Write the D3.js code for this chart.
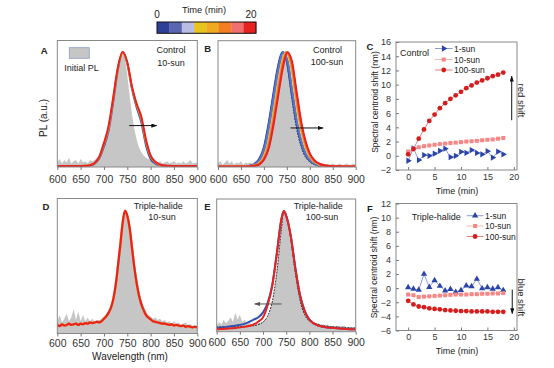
<!DOCTYPE html>
<html><head><meta charset="utf-8">
<script src="https://cdn.jsdelivr.net/npm/d3@7"></script>
<style>body{margin:0;background:#fff;} svg{display:block;}</style>
</head><body><svg id="chart" width="554" height="368"></svg>
<script>
// ---------------- DATA ----------------
const wavelengthTicks = [600, 650, 700, 750, 800, 850, 900];
const wavelengths = [600,610,620,630,640,650,660,670,680,690,700,710,720,730,740,750,760,770,780,790,800,810,820,830,840,850,860,870,880,890,900];
const wavelengthsFine = [600,605,610,615,620,625,630,635,640,645,650,655,660,665,670,675,680,685,690,695,
  700,705,710,715,720,725,730,735,740,745,750,755,760,765,770,775,780,785,790,795,
  800,805,810,815,820,825,830,835,840,845,850,855,860,865,870,875,880,885,890,895,900];
const wavelengthsB = [580,590,600,610,620,630,640,650,660,670,680,690,700,710,720,730,740,750,760,770,780,790,800,810,820,830,840,850,860,870,880,890,900];
const wavelengthsE = [600,620,640,660,680,690,700,710,720,730,740,745,750,760,770,780,790,800,820,840,860,880,900];

const timeColors = ["#2e3f98","#5a66b0","#b9bde3","#e8c31e","#f0aa22","#f27d22","#f07070","#e8231f"];
const curveColorsB = ["#2f4aa8","#3b59b8","#5f77c8","#e8c31e","#f0aa22","#f28a22","#f07060","#e8231f"];
const timeLabels = ["0", "20"];

// Panel A: Control 10-sun
const grayA = [.04,.07,.03,.06,.04,.08,.03,.05,.06,.03,.07,.04,.05,.03,.06,.05,.06,.08,.10,.14,
  .17,.24,.33,.45,.56,.66,.80,.93,1.0,.95,.80,.62,.46,.33,.24,.17,.13,.10,.08,.07,
  .06,.05,.06,.04,.05,.03,.04,.05,.03,.04,.05,.03,.04,.03,.05,.03,.04,.06,.03,.04,.03];
const blueA = [.005,.005,.005,.005,.005,.006,.008,.012,.028,.075,.18,.32,.57,.85,1.0,.90,.68,.52,.39,.19,.07,.03,.015,.01,.008,.007,.006,.006,.005,.005,.005];
const orangeA = [.007,.007,.007,.007,.007,.008,.01,.014,.032,.085,.20,.34,.60,.86,1.0,.90,.69,.54,.42,.22,.09,.04,.018,.012,.009,.008,.007,.007,.007,.007,.007];
const redA = [.008,.008,.008,.008,.008,.009,.011,.016,.035,.09,.21,.36,.61,.87,1.0,.91,.70,.55,.44,.24,.10,.045,.022,.013,.01,.009,.008,.008,.008,.008,.008];

// Panel B: Control 100-sun
const grayB = [.03,.05,.02,.04,.06,.03,.05,.02,.04,.03,.05,.02,.04,.03,.04,.03,.05,.06,.09,.13,
  .19,.28,.40,.52,.65,.77,.88,.96,1.0,.98,.90,.76,.60,.46,.34,.25,.18,.13,.09,.07,
  .05,.04,.05,.03,.04,.02,.03,.02,.03,.02,.03,.02,.02,.03,.02,.02,.03,.02,.02,.03,.02];
const baseB = [.005,.005,.005,.005,.005,.005,.005,.005,.006,.01,.025,.07,.17,.37,.62,.86,1.0,.92,.66,.40,.22,.11,.055,.028,.014,.009,.007,.006,.005,.005,.005,.005,.005];
const peakShiftB = [0, 1, 2, 7, 8, 9, 10, 11];
const initialB = [.005,.005,.005,.005,.005,.005,.005,.008,.025,.07,.17,.37,.62,.86,1.0,.90,.62,.36,.19,.09,.045,.022,.012,.008,.005,.005,.005,.005,.005,.005,.005];

// Panel D: Triple-halide 10-sun
const grayD = [.10,.15,.09,.12,.16,.10,.13,.20,.11,.18,.10,.15,.10,.13,.10,.12,.10,.11,.11,.12,
  .14,.16,.19,.23,.30,.41,.57,.74,.92,1.0,.98,.90,.76,.60,.47,.36,.28,.22,.18,.15,
  .14,.12,.13,.11,.12,.10,.11,.09,.10,.08,.10,.08,.09,.07,.08,.09,.07,.08,.06,.07,.06];
const redD = [.07,.06,.075,.065,.07,.08,.07,.075,.08,.07,.08,.075,.085,.08,.09,.085,.09,.095,.09,.10,
  .12,.14,.17,.21,.28,.39,.55,.72,.90,1.0,.96,.86,.70,.54,.41,.31,.24,.19,.15,.13,
  .115,.10,.095,.09,.085,.08,.08,.075,.07,.075,.065,.07,.065,.06,.065,.055,.06,.055,.05,.055,.05];

// Panel E: Triple-halide 100-sun
const grayE = [.05,.08,.06,.10,.07,.09,.12,.08,.16,.10,.14,.08,.10,.07,.08,.06,.07,.06,.07,.07,
  .08,.10,.12,.17,.24,.35,.50,.68,.87,.98,.97,.90,.80,.66,.52,.40,.30,.22,.16,.12,
  .10,.08,.07,.06,.07,.05,.06,.05,.06,.04,.05,.04,.05,.04,.04,.05,.03,.04,.03,.04,.03];
const blueE = [.03,.04,.05,.065,.10,.12,.16,.24,.39,.66,.94,1.0,.96,.79,.52,.30,.17,.10,.05,.035,.028,.022,.02];
const redE = [.02,.025,.03,.04,.06,.085,.12,.22,.38,.65,.94,1.0,.96,.79,.52,.30,.17,.10,.05,.035,.028,.022,.02];
const initialE = [.04,.04,.04,.045,.05,.06,.08,.13,.25,.50,.86,1.0,.97,.76,.48,.26,.14,.09,.06,.045,.04,.035,.03];

// Panels C & F: spectral centroid shift (nm) vs time (min)
const timeMin = [0,1,2,3,4,5,6,7,8,9,10,11,12,13,14,15,16,17,18];
const timeTicks = [0, 5, 10, 15, 20];
const controlTicks = [-2,0,2,4,6,8,10,12,14,16];
const tripleTicks = [-6,-4,-2,0,2,4,6,8,10,12];
const seriesNames = ["1-sun", "10-sun", "100-sun"];
const controlSun1 = [-0.7,1.05,-0.6,0.1,0.0,0.3,0.7,1.0,-0.2,0.0,0.55,0.4,0.8,0.4,0.2,0.65,-0.25,0.6,0.2];
const controlSun10 = [0.6,1.0,1.2,1.35,1.45,1.55,1.65,1.72,1.8,1.85,1.92,2.0,2.05,2.1,2.18,2.25,2.3,2.4,2.5];
const controlSun100 = [0.2,0.95,2.4,3.7,4.9,5.8,6.7,7.4,8.0,8.5,9.0,9.5,9.9,10.3,10.6,10.9,11.2,11.4,11.7];
const tripleSun1 = [0.1,-0.1,-0.25,2.0,0.15,1.1,0.3,-0.35,-0.15,-0.55,-0.3,0.35,0.25,1.3,-0.05,0.1,-0.1,0.1,-0.3];
const tripleSun10 = [-0.9,-1.0,-1.25,-1.2,-1.15,-1.1,-1.05,-1.0,-0.95,-0.9,-0.9,-0.9,-0.85,-0.85,-0.8,-0.8,-0.75,-0.75,-0.7];
const tripleSun100 = [-1.8,-2.3,-2.6,-2.7,-2.85,-2.95,-3.0,-3.1,-3.15,-3.2,-3.25,-3.25,-3.3,-3.3,-3.3,-3.3,-3.35,-3.35,-3.35];

// ---------------- DRAW ----------------
const FONT = "'Liberation Sans', Arial, Helvetica, sans-serif";
const svg = d3.select("#chart");
const defs = svg.append("defs");
function arrowMarker(id, color) {
  defs.append("marker").attr("id", id).attr("viewBox", "0 0 10 7").attr("refX", 9).attr("refY", 3.5)
    .attr("markerWidth", 6).attr("markerHeight", 4.2).attr("markerUnits", "userSpaceOnUse").attr("orient", "auto")
    .append("path").attr("d", "M0,0 L10,3.5 L0,7 Z").attr("fill", color);
}
arrowMarker("ahBlack", "#111");
arrowMarker("ahGray", "#555");

function txt(x, y, s, o = {}) {
  const t = svg.append("text").attr("x", x).attr("y", y).text(s)
    .attr("font-family", FONT).attr("font-size", o.size || 9).attr("fill", o.fill || "#222")
    .attr("text-anchor", o.anchor || "start").attr("font-weight", o.weight || "normal");
  if (o.rotate) t.attr("transform", `rotate(${o.rotate},${x},${y})`);
  return t;
}

function spectrum(p) {
  const x = d3.scaleLinear().domain([600, 900]).range([p.x0, p.x1]);
  const y = d3.scaleLinear().domain([0, 1.1]).range([p.y1, p.y0]);
  const g = svg.append("g");
  defs.append("clipPath").attr("id", "clip" + p.id).append("rect")
    .attr("x", p.x0).attr("y", p.y0).attr("width", p.x1 - p.x0).attr("height", p.y1 - p.y0);
  const inner = g.append("g").attr("clip-path", `url(#clip${p.id})`);
  const grayData = wavelengthsFine.map((w, i) => ({ w, v: p.gray[i] }));
  inner.append("path").datum(grayData)
    .attr("d", d3.area().x(d => x(d.w)).y0(y(0)).y1(d => y(d.v)))
    .attr("fill", "#c6c6c6");
  p.curves.forEach(c => {
    const data = c.w.map((w, i) => ({ w: w + (c.shift || 0), v: c.v[i] }));
    inner.append("path").datum(data)
      .attr("d", d3.line().x(d => x(d.w)).y(d => y(d.v)).curve(d3.curveMonotoneX))
      .attr("fill", "none").attr("stroke", c.color).attr("stroke-width", c.width || 2)
      .attr("stroke-dasharray", c.dash || null).attr("stroke-linecap", c.dash ? "round" : "butt");
  });
  g.append("rect").attr("x", p.x0).attr("y", p.y0).attr("width", p.x1 - p.x0).attr("height", p.y1 - p.y0)
    .attr("fill", "none").attr("stroke", "#888").attr("stroke-width", 1);
  const ax = g.append("g").attr("transform", `translate(0,${p.y1})`)
    .call(d3.axisBottom(x).tickValues(wavelengthTicks).tickSize(3).tickPadding(p.pad).tickFormat(d3.format("d")));
  ax.select(".domain").remove();
  ax.selectAll("line").attr("stroke", "#777");
  ax.selectAll("text").attr("font-size", 10.5).attr("fill", "#333").attr("font-family", FONT);
  if (p.arrow) {
    const a = p.arrow;
    g.append("line").attr("x1", x(a.from)).attr("x2", x(a.to)).attr("y1", y(a.v)).attr("y2", y(a.v))
      .attr("stroke", a.color).attr("stroke-width", 1).attr("marker-end", `url(#${a.marker})`);
  }
}

// Colorbar
const cbScale = d3.scaleBand().domain(d3.range(timeColors.length)).range([157, 256]).padding(0);
svg.append("g").selectAll("rect").data(timeColors).join("rect")
  .attr("x", (d, i) => cbScale(i)).attr("y", 22).attr("width", cbScale.bandwidth() + 0.3).attr("height", 11.3)
  .attr("fill", d => d);
svg.append("rect").attr("x", 157).attr("y", 22).attr("width", 99).attr("height", 11.3)
  .attr("fill", "none").attr("stroke", "#111").attr("stroke-width", 1);
txt(157, 18.3, timeLabels[0], { size: 10, anchor: "middle" });
txt(251, 18.3, timeLabels[1], { size: 10, anchor: "middle" });
txt(204, 13.3, "Time (min)", { size: 9.3, anchor: "middle" });

// Panel A
spectrum({ id: "A", x0: 57.3, x1: 197.3, y0: 40.5, y1: 167, pad: 6, gray: grayA,
  curves: [
    { w: wavelengths, v: blueA, color: "#3552b0" },
    { w: wavelengths, v: orangeA, color: "#f2a020" },
    { w: wavelengths, v: redA, color: "#e8231f" }
  ],
  arrow: { from: 754, to: 813, v: 0.36, color: "#111", marker: "ahBlack" } });
svg.append("rect").attr("x", 69.3).attr("y", 47.7).attr("width", 20).attr("height", 10.6)
  .attr("fill", "#c6c6c6").attr("stroke", "#8d9dc4").attr("stroke-width", 0.8);
txt(64.3, 71, "Initial PL", { size: 9 });
txt(171, 53.4, "Control", { size: 9, anchor: "middle" });
txt(171, 65.6, "10-sun", { size: 9, anchor: "middle" });
txt(44.3, 53.5, "A", { size: 9.5, anchor: "middle", weight: "bold" });
txt(46.5, 118, "PL (a.u.)", { size: 10, anchor: "middle", rotate: -90 });

// Panel B
spectrum({ id: "B", x0: 218, x1: 355.7, y0: 40.7, y1: 167, pad: 6, gray: grayB,
  curves: [{ w: wavelengths, v: initialB, color: "#111", width: 1, dash: "1,2" }]
    .concat(peakShiftB.map((s, i) => ({ w: wavelengthsB, v: baseB, shift: s, color: curveColorsB[i], width: 2.1 }))),
  arrow: { from: 758, to: 829, v: 0.34, color: "#111", marker: "ahBlack" } });
txt(327.5, 52.7, "Control", { size: 9, anchor: "middle" });
txt(327, 64.5, "100-sun", { size: 9, anchor: "middle" });
txt(207.7, 52, "B", { size: 9.5, anchor: "middle", weight: "bold" });

// Panel D
spectrum({ id: "D", x0: 57.3, x1: 197.3, y0: 198.5, y1: 333.5, pad: 3, gray: grayD,
  curves: [
    { w: wavelengthsFine, v: redD, color: "#f2a020", width: 2.4 },
    { w: wavelengthsFine, v: redD, color: "#e8231f", width: 2.2 }
  ] });
txt(158.3, 208.7, "Triple-halide", { size: 9, anchor: "middle" });
txt(162, 220, "10-sun", { size: 9, anchor: "middle" });
txt(46, 209.5, "D", { size: 9.5, anchor: "middle", weight: "bold" });
txt(130, 359.5, "Wavelength (nm)", { size: 10, anchor: "middle" });

// Panel E
spectrum({ id: "E", x0: 216.7, x1: 355.7, y0: 199, y1: 331.7, pad: 3.5, gray: grayE,
  curves: [
    { w: wavelengthsE, v: initialE, color: "#111", width: 1, dash: "1,2" },
    { w: wavelengthsE, v: blueE, color: "#3552b0" },
    { w: wavelengthsE, v: redE, color: "#e8231f" }
  ],
  arrow: { from: 740, to: 682, v: 0.23, color: "#555", marker: "ahGray" } });
txt(318.3, 208.7, "Triple-halide", { size: 9, anchor: "middle" });
txt(322, 220, "100-sun", { size: 9, anchor: "middle" });
txt(207.3, 210, "E", { size: 9.5, anchor: "middle", weight: "bold" });

// Shift panels
const seriesStyle = [
  { line: "#6f80cc", fill: "#2a44a8", size: 17 },
  { line: "#f6a5a5", fill: "#f58787", size: 16 },
  { line: "#e05a5a", fill: "#d41e1e", size: 18 }
];
function shiftPanel(p) {
  const x = d3.scaleLinear().domain([-2.3, 20.6]).range([396, 517]);
  const y = d3.scaleLinear().domain(p.yDomain).range([p.y1, p.y0]);
  const g = svg.append("g");
  g.append("rect").attr("x", 396).attr("y", p.y0).attr("width", 121).attr("height", p.y1 - p.y0)
    .attr("fill", "none").attr("stroke", "#888").attr("stroke-width", 1);
  const ay = g.append("g").attr("transform", "translate(396,0)")
    .call(d3.axisLeft(y).tickValues(p.yTicks).tickSizeInner(-3).tickSizeOuter(0).tickPadding(5));
  const ax = g.append("g").attr("transform", `translate(0,${p.y1})`)
    .call(d3.axisBottom(x).tickValues(timeTicks).tickSizeInner(-3).tickSizeOuter(0).tickPadding(3.5));
  [ax, ay].forEach(a => {
    a.select(".domain").remove();
    a.selectAll("line").attr("stroke", "#777");
    a.selectAll("text").attr("font-size", 9).attr("fill", "#333").attr("font-family", FONT);
  });
  const symbols = [d3.symbolTriangle, d3.symbolSquare, d3.symbolCircle];
  p.series.forEach((vals, si) => {
    const st = seriesStyle[si];
    const data = timeMin.map((t, i) => ({ t, v: vals[i] }));
    g.append("path").datum(data).attr("d", d3.line().x(d => x(d.t)).y(d => y(d.v)))
      .attr("fill", "none").attr("stroke", st.line).attr("stroke-width", 0.8);
    g.selectAll(null).data(data).join("path")
      .attr("d", d3.symbol().type(symbols[si]).size(st.size))
      .attr("transform", d => `translate(${x(d.t)},${y(d.v)})` + (si === 0 ? ` rotate(${p.triRot})` : ""))
      .attr("fill", st.fill);
  });
  p.legendRows.forEach((ry, si) => {
    const st = seriesStyle[si];
    g.append("line").attr("x1", p.lx0).attr("x2", p.lx1).attr("y1", ry).attr("y2", ry)
      .attr("stroke", st.line).attr("stroke-width", 0.8);
    g.append("path").attr("d", d3.symbol().type(symbols[si]).size(st.size))
      .attr("transform", `translate(${(p.lx0 + p.lx1) / 2},${ry})` + (si === 0 ? ` rotate(${p.triRot})` : ""))
      .attr("fill", st.fill);
    txt(p.lx1 + 1.5, ry + 3, seriesNames[si], { size: 8.5 });
  });
  g.append("line").attr("x1", x(p.arrow.t)).attr("x2", x(p.arrow.t))
    .attr("y1", y(p.arrow.from)).attr("y2", y(p.arrow.to))
    .attr("stroke", "#111").attr("stroke-width", 1).attr("marker-end", "url(#ahBlack)");
}

shiftPanel({ y0: 42, y1: 170, yDomain: [-2, 16], yTicks: controlTicks, triRot: 90,
  series: [controlSun1, controlSun10, controlSun100],
  legendRows: [48.5, 59.5, 70], lx0: 435, lx1: 452.5,
  arrow: { t: 19.6, from: 5, to: 11.2 } });
txt(400, 55.5, "Control", { size: 9 });
txt(517.5, 100.5, "red shift", { size: 9.5, anchor: "middle", rotate: 90 });
txt(370, 49.5, "C", { size: 9.5, anchor: "middle", weight: "bold" });
txt(377.5, 102, "Spectral centroid shift (nm)", { size: 8.5, anchor: "middle", rotate: -90 });
txt(457, 193.5, "Time (min)", { size: 9, anchor: "middle" });

shiftPanel({ y0: 203.5, y1: 330.5, yDomain: [-6, 12], yTicks: tripleTicks, triRot: 0,
  series: [tripleSun1, tripleSun10, tripleSun100],
  legendRows: [215.7, 226, 236.5], lx0: 466.7, lx1: 483.5,
  arrow: { t: 19.7, from: -0.2, to: -3.6 } });
txt(411.7, 219.5, "Triple-halide", { size: 9 });
txt(517.5, 297.5, "blue shift", { size: 9.5, anchor: "middle", rotate: 90 });
txt(370, 212, "F", { size: 9.5, anchor: "middle", weight: "bold" });
txt(377, 267.5, "Spectral centroid shift (nm)", { size: 8.5, anchor: "middle", rotate: -90 });
txt(457, 353.5, "Time (min)", { size: 9, anchor: "middle" });
</script>
</body></html>
